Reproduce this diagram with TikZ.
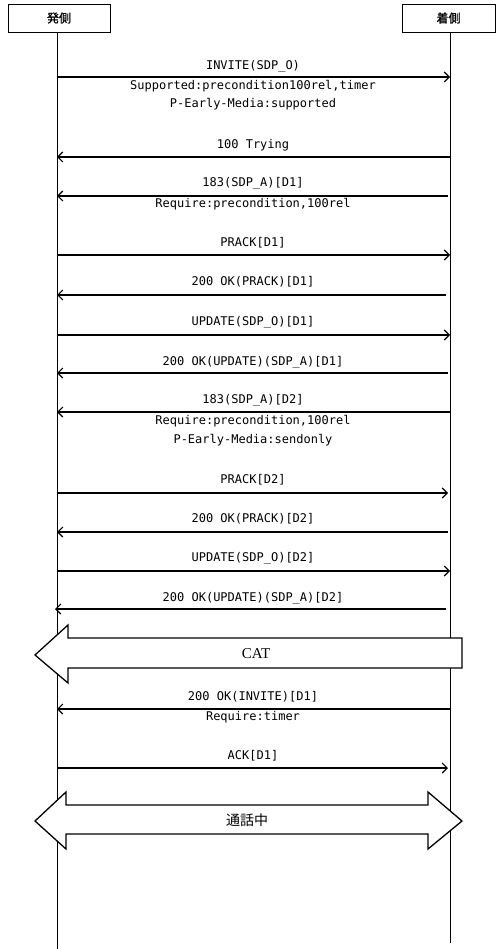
\documentclass[tikz,border=0pt]{standalone}
\usepackage{fontspec}
\setmonofont{DejaVu Sans Mono}
\newfontfamily\cjk{Noto Sans CJK JP}[FakeBold=1.2]
\newfontfamily\cjkreg{Noto Sans CJK JP}
\newfontfamily\catfont{Liberation Serif}
\usetikzlibrary{arrows.meta}
\begin{document}
\begin{tikzpicture}[x=1pt,y=-1pt,
  actor/.style={draw, line width=0.8pt, inner sep=0pt, font=\cjk\fontsize{12}{14}\selectfont},
  life/.style={line width=0.7pt},
  msg/.style={line width=1.3pt, -{Straight Barb[length=5pt,width=10pt,line width=1.1pt]}},
  lbl/.style={font=\ttfamily\fontsize{12}{13}\selectfont, inner sep=0pt},
  fat/.style={draw, line width=1.3pt, fill=white, line join=miter},
  fatlbl/.style={inner sep=0pt}]
\useasboundingbox (0,0) rectangle (500,949);

% actors
\node[actor, minimum width=102pt, minimum height=28pt] (snd) at (59,18) {発側};
\node[actor, minimum width=93pt, minimum height=28pt] (rcv) at (448.5,18) {着側};
\coordinate (sndEnd) at (57,949);
\coordinate (rcvEnd) at (450,943);
\draw[life] (snd.south -| sndEnd) -- (sndEnd);
\draw[life] (rcv.south -| rcvEnd) -- (rcvEnd);

% messages
\coordinate (a1) at (57,77);  \coordinate (b1) at (450,77);
\draw[msg] (a1) -- (b1);
\node[lbl] (t1) at (253,66) {INVITE(SDP\_O)};
\node[lbl] (t1b) at (253,86) {Supported:precondition100rel,timer};
\node[lbl] (t1c) at (253,104) {P-Early-Media:supported};

\coordinate (a2) at (57,157); \coordinate (b2) at (450,157);
\draw[msg] (b2) -- (a2);
\node[lbl] (t2) at (253,145) {100 Trying};

\coordinate (a3) at (57,196); \coordinate (b3) at (448,196);
\draw[msg] (b3) -- (a3);
\node[lbl] (t3) at (253,183) {183(SDP\_A)[D1]};
\node[lbl] (t3b) at (253,204) {Require:precondition,100rel};

\coordinate (a4) at (58,255); \coordinate (b4) at (450,255);
\draw[msg] (a4) -- (b4);
\node[lbl] (t4) at (253,243) {PRACK[D1]};

\coordinate (a5) at (57,295); \coordinate (b5) at (446,295);
\draw[msg] (b5) -- (a5);
\node[lbl] (t5) at (253,282) {200 OK(PRACK)[D1]};

\coordinate (a6) at (57,335); \coordinate (b6) at (450,335);
\draw[msg] (a6) -- (b6);
\node[lbl] (t6) at (253,322) {UPDATE(SDP\_O)[D1]};

\coordinate (a7) at (57,373); \coordinate (b7) at (448,373);
\draw[msg] (b7) -- (a7);
\node[lbl] (t7) at (253,362) {200 OK(UPDATE)(SDP\_A)[D1]};

\coordinate (a8) at (57,412); \coordinate (b8) at (450,412);
\draw[msg] (b8) -- (a8);
\node[lbl] (t8) at (253,400) {183(SDP\_A)[D2]};
\node[lbl] (t8b) at (253,421) {Require:precondition,100rel};
\node[lbl] (t8c) at (253,440) {P-Early-Media:sendonly};

\coordinate (a9) at (57,493); \coordinate (b9) at (448,493);
\draw[msg] (a9) -- (b9);
\node[lbl] (t9) at (253,480) {PRACK[D2]};

\coordinate (a10) at (57,532); \coordinate (b10) at (448,532);
\draw[msg] (b10) -- (a10);
\node[lbl] (t10) at (253,519) {200 OK(PRACK)[D2]};

\coordinate (a11) at (57,571); \coordinate (b11) at (450,571);
\draw[msg] (a11) -- (b11);
\node[lbl] (t11) at (253,558) {UPDATE(SDP\_O)[D2]};

\coordinate (a12) at (55,609); \coordinate (b12) at (446,609);
\draw[msg] (b12) -- (a12);
\node[lbl] (t12) at (253,598) {200 OK(UPDATE)(SDP\_A)[D2]};

% CAT
\draw[fat] (462,638) -- (68,638) -- (68,625) -- (35,655) -- (68,683) -- (68,668) -- (462,668) -- cycle;
\node[fatlbl, font=\catfont\fontsize{15}{17}\selectfont] (cat) at (256,654) {CAT};

\coordinate (a13) at (57,709); \coordinate (b13) at (450,709);
\draw[msg] (b13) -- (a13);
\node[lbl] (t13) at (253,697) {200 OK(INVITE)[D1]};
\node[lbl] (t13b) at (253,717) {Require:timer};

\coordinate (a14) at (57,768); \coordinate (b14) at (448,768);
\draw[msg] (a14) -- (b14);
\node[lbl] (t14) at (253,756) {ACK[D1]};

% talking
\draw[fat] (35,821) -- (66,792) -- (66,805) -- (428,805) -- (428,792) -- (462,821) -- (428,849) -- (428,834) -- (66,834) -- (66,849) -- cycle;
\node[fatlbl, font=\cjkreg\fontsize{14}{16}\selectfont] (talk) at (247,820) {通話中};
\end{tikzpicture}
\end{document}
